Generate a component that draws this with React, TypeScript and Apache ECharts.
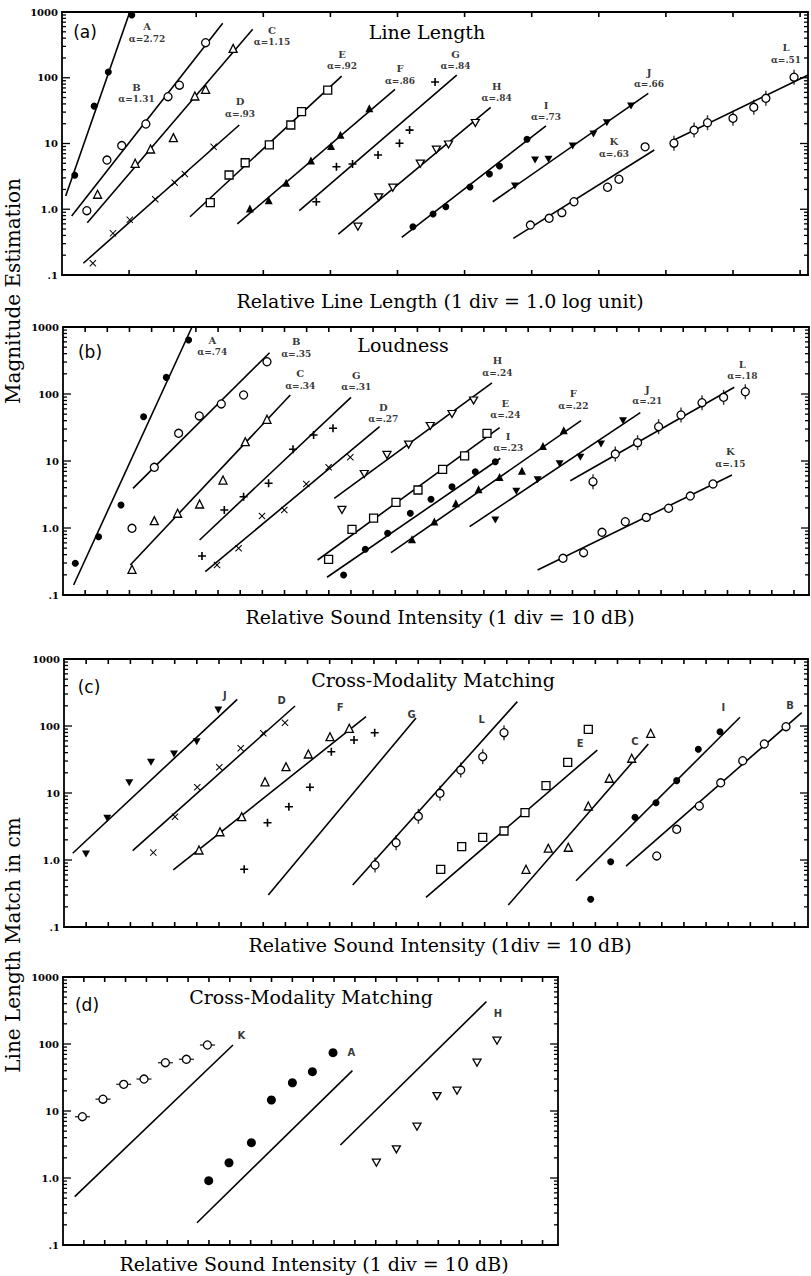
import React, { useEffect, useRef } from "react";
import * as echarts from "echarts";

const SERIF = "'DejaVu Serif', serif";
const SANS = "'DejaVu Sans', sans-serif";

// y tick labels for log axes: index = exponent + 1
const yTickLabels = [".1", "1.0", "10", "100", "1000"];
const majorDecades = [0.1, 1, 10, 100, 1000];
const minorMultipliers = [2, 3, 4, 5, 6, 7, 8, 9];
const decades = [0.1, 1, 10, 100];

// ---------------- Panel (a): Line Length (x in divisions, 1 div = 1.0 log unit)
const ptsA = {
  A: [[0.19, 3.3], [0.48, 37], [0.69, 122], [1.04, 900]],
  B: [[0.37, 0.95], [0.67, 5.6], [0.89, 9.3], [1.25, 19.8], [1.58, 51.5], [1.75, 77], [2.14, 341]],
  C: [[0.53, 1.69], [1.09, 5.0], [1.32, 8.25], [1.66, 12.3], [1.98, 52.8], [2.14, 66.7], [2.55, 280]],
  D: [[0.46, 0.151], [0.76, 0.43], [1.01, 0.69], [1.39, 1.42], [1.68, 2.53], [1.83, 3.44], [2.26, 8.9]],
  E: [[2.21, 1.26], [2.49, 3.32], [2.73, 5.1], [3.09, 9.5], [3.41, 19.1], [3.57, 30.5], [3.96, 65]],
  F: [[2.8, 1.03], [3.08, 1.37], [3.34, 2.53], [3.71, 5.5], [4.01, 9.2], [4.15, 13.6], [4.58, 34.3]],
  G: [[3.79, 1.3], [4.09, 4.44], [4.33, 4.88], [4.71, 6.7], [5.03, 10.1], [5.18, 16.0], [5.56, 86]],
  H: [[4.41, 0.543], [4.72, 1.52], [4.93, 2.13], [5.34, 4.93], [5.58, 8.05], [5.76, 9.66], [6.16, 20.5]],
  I: [[5.23, 0.543], [5.53, 0.847], [5.72, 1.09], [6.08, 2.18], [6.37, 3.44], [6.52, 4.55], [6.93, 11.6]],
  J: [[6.75, 2.26], [7.05, 5.6], [7.25, 5.75], [7.61, 9.2], [7.92, 13.9], [8.12, 20.7], [8.48, 37.2]],
  K: [[6.98, 0.575], [7.26, 0.728], [7.45, 0.887], [7.63, 1.3], [8.13, 2.16], [8.3, 2.86], [8.69, 8.9]],
  L: [[9.12, 10.1], [9.42, 16.0], [9.62, 20.7], [10.0, 24.2], [10.31, 35.5], [10.49, 48.7], [10.91, 102]],
};
const fitsA = {
  A: [[0.055, 1.59], [1.01, 1000]],
  B: [[0.144, 0.79], [2.395, 673]],
  C: [[0.377, 0.625], [2.842, 546]],
  D: [[0.318, 0.151], [2.642, 19.1]],
  E: [[1.908, 0.77], [4.168, 106]],
  F: [[2.613, 0.597], [4.963, 66.7]],
  G: [[3.537, 0.95], [5.883, 110]],
  H: [[4.118, 0.42], [6.389, 35.5]],
  I: [[5.063, 0.374], [7.213, 18.5]],
  J: [[6.419, 1.3], [8.738, 58]],
  K: [[6.726, 0.361], [8.827, 7.96]],
  L: [[9.121, 11.3], [11.12, 110]],
};
const labelsA = [
  [1.267, 480, "A", "2.72"], [1.11, 58, "B", "1.31"], [3.13, 427, "C", "1.15"],
  [2.653, 34.7, "D", ".93"], [4.173, 186, "E", ".92"], [5.037, 111, "F", ".86"],
  [5.864, 186, "G", ".84"], [6.478, 60.7, "H", ".84"], [7.213, 31.2, "I", ".73"],
  [8.748, 99, "J", ".66"], [8.226, 8.55, "K", ".63"], [10.79, 230, "L", ".51"],
];
const markA = { A: "fc", B: "oc", C: "ot", D: "x", E: "os", F: "ft", G: "p", H: "oi", I: "fc", J: "fi", K: "oc", L: "vb" };

// ---------------- Panel (b): Loudness (1 div = 10 dB)
const ptsB = {
  A: [[0.555, 0.297], [1.607, 0.741], [2.619, 2.2], [3.639, 45.8], [4.664, 177], [5.67, 640]],
  B: [[3.115, 0.99], [4.122, 8.05], [5.219, 25.9], [6.153, 47], [7.147, 71], [8.154, 96.6], [9.209, 303]],
  C: [[3.115, 0.242], [4.122, 1.29], [5.174, 1.66], [6.167, 2.28], [7.224, 5.2], [8.23, 19.4], [9.209, 41.9]],
  G: [[6.275, 0.382], [7.282, 1.86], [8.153, 2.93], [9.282, 4.65], [10.384, 15], [11.314, 24.4], [12.19, 30.8]],
  D: [[6.953, 0.28], [7.928, 0.498], [8.984, 1.51], [9.991, 1.86], [10.984, 4.54], [11.991, 8.05], [12.971, 11.4]],
  H: [[12.594, 1.86], [13.602, 6.4], [14.627, 12.3], [15.603, 17.6], [16.582, 33.3], [17.562, 50.3], [18.537, 80]],
  E: [[11.991, 0.341], [13.047, 0.957], [14.022, 1.4], [15.033, 2.42], [16.027, 3.69], [17.138, 7.5], [18.131, 11.9], [19.142, 25.9]],
  I: [[12.668, 0.199], [13.648, 0.481], [14.655, 0.834], [15.68, 1.66], [16.614, 2.68], [17.562, 4.13], [18.614, 6.9], [19.517, 9.77]],
  F: [[15.757, 0.678], [16.763, 1.25], [17.734, 2.34], [18.761, 3.78], [19.709, 5.77], [20.72, 7.16], [21.668, 16.7], [22.607, 28.7]],
  J: [[19.517, 1.32], [20.465, 3.53], [21.427, 5.26], [22.42, 9.12], [23.357, 11.4], [24.289, 17.9], [25.282, 40]],
  L: [[23.928, 4.91], [24.935, 12.7], [25.942, 18.8], [26.89, 32.5], [27.901, 48.6], [28.849, 74.2], [29.824, 89.3], [30.804, 108]],
  K: [[22.573, 0.353], [23.503, 0.428], [24.334, 0.863], [25.386, 1.24], [26.334, 1.44], [27.341, 1.97], [28.32, 3.0], [29.345, 4.54]],
};
const fitsB = {
  A: [[0.479, 0.141], [5.824, 1000]],
  B: [[3.16, 3.91], [9.327, 413]],
  C: [[3.038, 0.28], [10.262, 96.6]],
  G: [[6.167, 0.662], [13.002, 89]],
  D: [[6.424, 0.223], [14.293, 32.5]],
  H: [[12.248, 2.77], [19.368, 147]],
  E: [[11.494, 0.333], [19.711, 31.4]],
  I: [[11.919, 0.184], [19.743, 11.0]],
  F: [[14.808, 0.428], [23.386, 40]],
  J: [[18.357, 1.05], [26.063, 52.6]],
  L: [[22.903, 5.08], [30.307, 126]],
  K: [[21.427, 0.236], [30.203, 6.18]],
};
const labelsB = [
  [6.74, 520, "A", ".74"], [10.53, 486, "B", ".35"], [10.71, 162, "C", ".34"],
  [13.24, 156, "G", ".31"], [14.46, 52, "D", ".27"], [19.61, 253, "H", ".24"],
  [19.97, 59.7, "E", ".24"], [20.1, 19.2, "I", ".23"], [23.04, 81.4, "F", ".22"],
  [26.38, 96.6, "J", ".21"], [30.67, 228, "L", ".18"], [30.13, 11.1, "K", ".15"],
];
const markB = { A: "fc", B: "oc", C: "ot", G: "p", D: "x", H: "oi", E: "os", I: "fc", F: "ft", J: "fi", L: "vb", K: "oc" };

// ---------------- Panel (c): Cross-Modality Matching (1 div = 10 dB)
const ptsC = {
  J: [[0.994, 1.23], [1.956, 4.19], [2.949, 14.2], [3.93, 28.7], [4.968, 38.2], [5.994, 58.3], [6.97, 173]],
  D: [[4.033, 1.29], [5.014, 4.43], [6.021, 12.2], [7.015, 24.2], [7.981, 46.5], [9.002, 77.8], [9.982, 112]],
  F: [[6.098, 1.41], [7.046, 2.64], [8.026, 4.43], [9.079, 14.7], [10.027, 24.7], [11.035, 38.2], [12.014, 69.2], [12.886, 92.4]],
  G: [[8.139, 0.727], [9.192, 3.6], [10.158, 6.25], [11.107, 12.2], [12.074, 41.3], [13.099, 61.8], [14.033, 79.4]],
  L: [[14.047, 0.842], [15.0, 1.81], [16.007, 4.49], [16.983, 9.9], [17.918, 22.0], [18.912, 34.8], [19.874, 79.4]],
  E: [[17.015, 0.727], [17.963, 1.58], [18.912, 2.18], [19.874, 2.71], [20.822, 5.08], [21.771, 12.9], [22.751, 28.7], [23.681, 89.3]],
  C: [[20.867, 0.727], [21.874, 1.5], [22.777, 1.55], [23.681, 6.4], [24.629, 16.6], [25.641, 33], [26.499, 77.8]],
  I: [[23.789, 0.259], [24.693, 0.944], [25.79, 4.34], [26.739, 7.16], [27.674, 15.3], [28.65, 44.9], [29.63, 82.2]],
  B: [[26.771, 1.15], [27.674, 2.87], [28.695, 6.4], [29.661, 14.2], [30.655, 30.3], [31.63, 53.9], [32.611, 97.6]],
};
const fitsC = {
  J: [[0.393, 1.26], [7.827, 250]],
  D: [[3.103, 1.38], [10.434, 199]],
  F: [[4.937, 0.71], [13.64, 138]],
  G: [[9.228, 0.3], [15.9, 132]],
  L: [[13.04, 0.424], [20.475, 231]],
  E: [[16.35, 0.277], [24.087, 43.8]],
  C: [[20.068, 0.213], [26.391, 53.9]],
  I: [[23.126, 0.491], [30.533, 135]],
  B: [[25.384, 0.813], [33.32, 158]],
};
const labelsC = [
  [7.27, 290, "J"], [9.83, 244, "D"], [12.47, 190, "F"], [15.7, 146, "G"], [18.87, 126, "L"],
  [23.31, 53.9, "E"], [25.79, 58.3, "C"], [29.78, 190, "I"], [32.79, 199, "B"],
];
const markC = { J: "fi", D: "x", F: "ot", G: "p", L: "vb", E: "os", C: "ot", I: "fc", B: "oc" };

// ---------------- Panel (d): Cross-Modality Matching (1 div = 10 dB)
const ptsD = {
  K: [[0.93, 8.22], [1.918, 15], [2.911, 25.0], [3.885, 30.0], [4.911, 52.6], [5.918, 59.1], [6.926, 96.6]],
  A: [[6.988, 0.912], [7.962, 1.69], [9.036, 3.37], [9.995, 14.6], [11.002, 26.4], [11.962, 38.6], [12.95, 74.2]],
  H: [[15.031, 1.69], [15.99, 2.68], [16.978, 5.83], [17.938, 16.7], [18.897, 20.1], [19.856, 52.6], [20.815, 112]],
};
const fitsD = {
  K: [[0.561, 0.526], [8.153, 96.6]],
  A: [[6.427, 0.215], [13.88, 40]],
  H: [[13.305, 3.11], [20.307, 428]],
};
const labelsD = [[8.556, 136, "K"], [13.83, 74.2, "A"], [20.86, 287, "H"]];
const markD = { K: "hb", A: "fcL", H: "oi" };

const BAR_V = "path://M0,0L1,0L1,14L0,14Z";
const BAR_H = "path://M0,0L14,0L14,1L0,1Z";
const MARKS = {
  fc: { symbol: "circle", size: 7, fill: "#000" },
  fcL: { symbol: "circle", size: 9, fill: "#000" },
  oc: { symbol: "circle", size: 8, fill: "#fff", stroke: "#000" },
  ot: { symbol: "triangle", size: 8, fill: "#fff", stroke: "#000" },
  ft: { symbol: "triangle", size: 8, fill: "#000" },
  os: { symbol: "rect", size: 8, fill: "#fff", stroke: "#000" },
  oi: { symbol: "path://M0,0L10,0L5,9Z", size: [8, 7], fill: "#fff", stroke: "#000" },
  fi: { symbol: "path://M0,0L10,0L5,9Z", size: [8, 7], fill: "#000" },
  x: { symbol: "path://M0,1L1,0L5,4L9,0L10,1L6,5L10,9L9,10L5,6L1,10L0,9L4,5Z", size: 7, fill: "#000" },
  p: { symbol: "path://M4,0L6,0L6,4L10,4L10,6L6,6L6,10L4,10L4,6L0,6L0,4L4,4Z", size: 8, fill: "#000" },
  vb: { symbol: "circle", size: 8, fill: "#fff", stroke: "#000", bar: BAR_V, barSize: [1.4, 15] },
  hb: { symbol: "circle", size: 8, fill: "#fff", stroke: "#000", bar: BAR_H, barSize: [15, 1.4] },
};

const PANELS = [
  { grid: { left: 62, top: 12, width: 746, height: 263 }, xMax: 746 / 67.1, pts: ptsA, fits: fitsA, labels: labelsA, marks: markA, alpha: true },
  { grid: { left: 63, top: 327, width: 746, height: 268 }, xMax: 746 / 22.15, pts: ptsB, fits: fitsB, labels: labelsB, marks: markB, alpha: true },
  { grid: { left: 64, top: 659, width: 744, height: 268 }, xMax: 744 / 22.14, pts: ptsC, fits: fitsC, labels: labelsC, marks: markC, alpha: false },
  { grid: { left: 63, top: 977, width: 495, height: 268 }, xMax: 495 / 20.85, pts: ptsD, fits: fitsD, labels: labelsD, marks: markD, alpha: false },
];

function buildOption() {
  const grid: any[] = [];
  const xAxis: any[] = [];
  const yAxis: any[] = [];
  const series: any[] = [];
  // y ticks: [value, length]
  const yTicks: number[][] = majorDecades.map((v) => [0, v, 8]);
  decades.forEach((d) => minorMultipliers.forEach((m) => yTicks.push([0, m * d, 4])));

  PANELS.forEach((p, i) => {
    grid.push({ ...p.grid, containLabel: false });
    ["bottom", "top"].forEach((pos) => {
      xAxis.push({
        type: "value", gridIndex: i, position: pos, min: 0, max: p.xMax, interval: 1,
        axisLine: { show: true, onZero: false, lineStyle: { color: "#000", width: 1.8 } },
        axisLabel: { show: false }, splitLine: { show: false }, axisTick: { show: false },
      });
    });
    ["left", "right"].forEach((pos) => {
      yAxis.push({
        type: "log", logBase: 10, gridIndex: i, position: pos, min: 0.1, max: 1000, splitNumber: 4,
        axisLine: { show: true, onZero: false, lineStyle: { color: "#000", width: 1.8 } },
        splitLine: { show: false }, axisTick: { show: false },
        axisLabel: pos === "left" ? {
          show: true, margin: 4, color: "#000", fontFamily: SERIF, fontSize: 10, fontWeight: "bold",
          formatter: (v: number) => yTickLabels[Math.round(Math.log10(v)) + 1] ?? "",
        } : { show: false },
      });
    });
    const xi = 2 * i, yi = 2 * i;
    const xTicks: number[][] = [];
    for (let k = 1; k < p.xMax; k++) xTicks.push([k, 1]);
    // x division ticks (bottom & top), inward
    series.push({
      type: "custom", xAxisIndex: xi, yAxisIndex: yi, silent: true, clip: false, z: 6,
      data: xTicks,
      renderItem: (params: any, api: any) => {
        const k = api.value(0);
        const b = api.coord([k, 0.1]);
        const t = api.coord([k, 1000]);
        return {
          type: "group",
          children: [
            { type: "line", shape: { x1: b[0], y1: b[1], x2: b[0], y2: b[1] - 5 }, style: { stroke: "#000", lineWidth: 1.6 } },
            { type: "line", shape: { x1: t[0], y1: t[1], x2: t[0], y2: t[1] + 5 }, style: { stroke: "#000", lineWidth: 1.6 } },
          ],
        };
      },
    });
    // log ticks on left & right, inward
    series.push({
      type: "custom", xAxisIndex: xi, yAxisIndex: yi, silent: true, clip: false, z: 6,
      data: yTicks,
      renderItem: (params: any, api: any) => {
        const v = api.value(1);
        const len = api.value(2);
        const l = api.coord([0, v]);
        const r = api.coord([p.xMax, v]);
        return {
          type: "group",
          children: [
            { type: "line", shape: { x1: l[0], y1: l[1], x2: l[0] + len, y2: l[1] }, style: { stroke: "#000", lineWidth: 1.3 } },
            { type: "line", shape: { x1: r[0], y1: r[1], x2: r[0] - len, y2: r[1] }, style: { stroke: "#000", lineWidth: 1.3 } },
          ],
        };
      },
    });
    Object.keys(p.fits).forEach((k) => {
      series.push({
        type: "line", name: `fit-${i}-${k}`, xAxisIndex: xi, yAxisIndex: yi, data: p.fits[k],
        symbol: "none", silent: true, z: 2, lineStyle: { color: "#000", width: 1.6 },
      });
    });
    Object.keys(p.pts).forEach((k) => {
      const m = MARKS[p.marks[k]];
      if (m.bar) {
        series.push({
          type: "scatter", name: `bar-${i}-${k}`, xAxisIndex: xi, yAxisIndex: yi, data: p.pts[k],
          symbol: m.bar, symbolSize: m.barSize, silent: true, z: 3,
          itemStyle: { color: "#000", borderWidth: 0 },
        });
      }
      series.push({
        type: "scatter", name: `pts-${i}-${k}`, xAxisIndex: xi, yAxisIndex: yi, data: p.pts[k],
        symbol: m.symbol, symbolSize: m.size, silent: true, z: 4,
        itemStyle: { color: m.fill, borderColor: m.stroke || m.fill, borderWidth: m.stroke ? 1.3 : 0, opacity: 1 },
      });
    });
    series.push({
      type: "scatter", xAxisIndex: xi, yAxisIndex: yi, silent: true, z: 5,
      symbolSize: 1, itemStyle: { color: "rgba(0,0,0,0)" },
      data: p.labels.map((l: any) => ({ value: [l[0], l[1]], name: p.alpha ? `{l|${l[2]}}\n{a|α=${l[3]}}` : `{s|${l[2]}}` })),
      label: {
        show: true, position: "inside", formatter: "{b}", color: "#000",
        rich: {
          l: { fontFamily: SERIF, fontSize: 10, fontWeight: "bold", lineHeight: 12, align: "center" },
          a: { fontFamily: SERIF, fontSize: 9, fontWeight: "bold", lineHeight: 12, align: "center" },
          s: { fontFamily: SANS, fontSize: 10, fontWeight: "bold", align: "center" },
        },
      },
    });
  });

  const t = (x: number, y: number, text: string, font: string, extra: any = {}) => ({
    type: "text", x, y, silent: true, ...extra,
    style: { text, font, fill: "#000", textAlign: "center", textVerticalAlign: "middle" },
  });
  const titleFont = `19px ${SERIF}`;
  const axFont = `19px ${SERIF}`;
  const panFont = `17px ${SANS}`;
  const graphic = [
    t(85, 32, "(a)", panFont), t(427, 32, "Line Length", titleFont),
    t(90, 352, "(b)", panFont), t(403, 345, "Loudness", titleFont),
    t(89, 687, "(c)", panFont), t(433, 680, "Cross-Modality Matching", titleFont),
    t(87, 1005, "(d)", panFont), t(311, 997, "Cross-Modality Matching", titleFont),
    t(440, 301, "Relative Line Length (1 div = 1.0 log unit)", axFont),
    t(440, 617, "Relative Sound Intensity (1 div = 10 dB)", axFont),
    t(440, 945, "Relative Sound Intensity (1div = 10 dB)", axFont),
    t(314, 1264, "Relative Sound Intensity (1 div = 10 dB)", axFont),
    t(13, 291, "Magnitude Estimation", `20px ${SERIF}`, { rotation: Math.PI / 2 }),
    t(13, 945, "Line Length Match in cm", `20px ${SERIF}`, { rotation: Math.PI / 2 }),
  ];

  return { animation: false, backgroundColor: "#fff", grid, xAxis, yAxis, series, graphic };
}

export default function App() {
  const ref = useRef<HTMLDivElement>(null);
  useEffect(() => {
    if (!ref.current) return;
    const chart = echarts.init(ref.current, undefined, { renderer: "svg" });
    chart.setOption(buildOption());
    return () => chart.dispose();
  }, []);
  return <div ref={ref} style={{ position: "fixed", left: 0, top: 0, width: 811, height: 1276, background: "#fff" }} />;
}
